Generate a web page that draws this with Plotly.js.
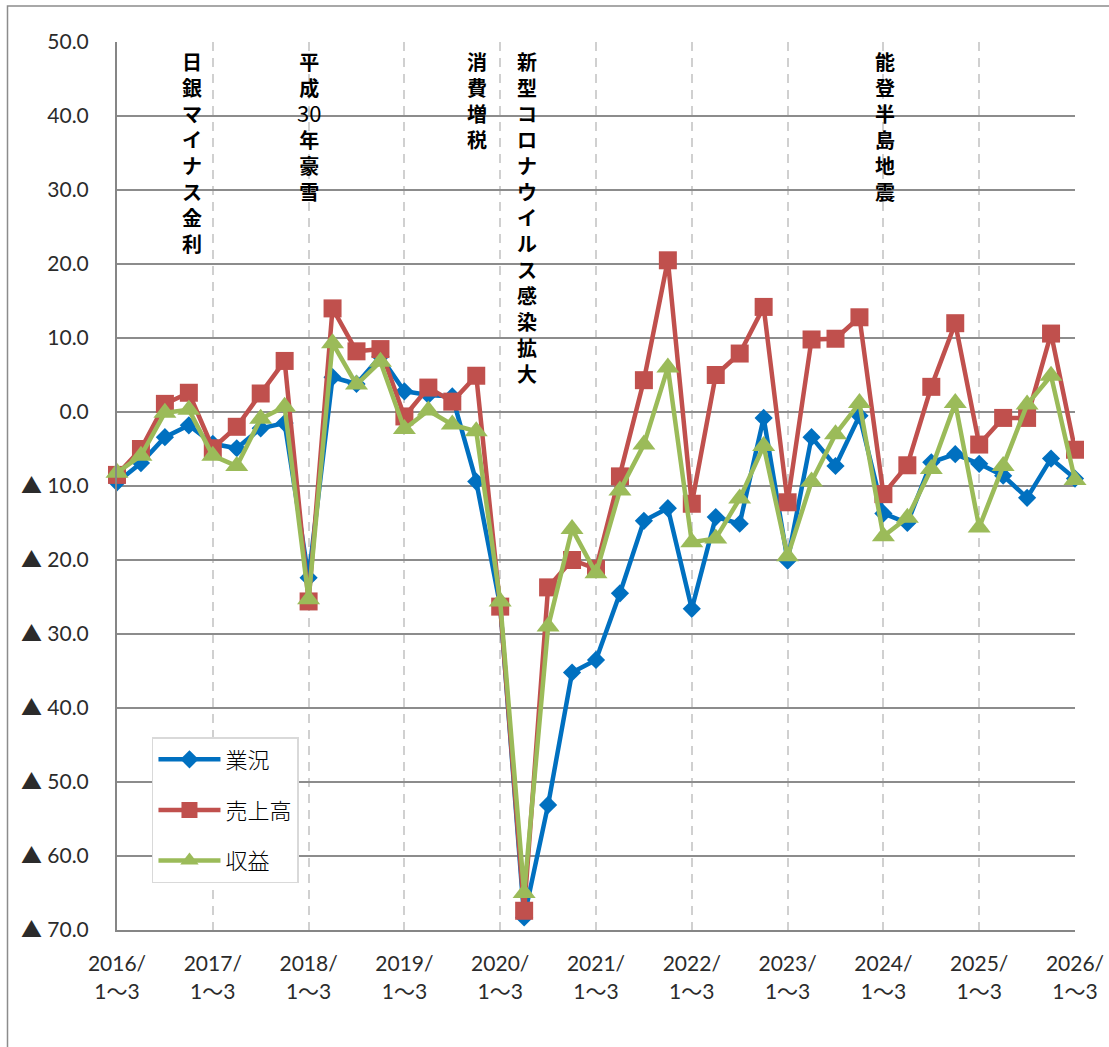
<!DOCTYPE html>
<html>
<head>
<meta charset="utf-8">
<script src="https://cdn.plot.ly/plotly-3.0.1.min.js"></script>
<style>html,body{margin:0;padding:0;background:#fff;}#chart{width:1109px;height:1047px;}</style>
</head>
<body>
<div id="chart"></div>
<script>
const quarters = [
  "2016/1～3","2016/4～6","2016/7～9","2016/10～12",
  "2017/1～3","2017/4～6","2017/7～9","2017/10～12",
  "2018/1～3","2018/4～6","2018/7～9","2018/10～12",
  "2019/1～3","2019/4～6","2019/7～9","2019/10～12",
  "2020/1～3","2020/4～6","2020/7～9","2020/10～12",
  "2021/1～3","2021/4～6","2021/7～9","2021/10～12",
  "2022/1～3","2022/4～6","2022/7～9","2022/10～12",
  "2023/1～3","2023/4～6","2023/7～9","2023/10～12",
  "2024/1～3","2024/4～6","2024/7～9","2024/10～12",
  "2025/1～3","2025/4～6","2025/7～9","2025/10～12",
  "2026/1～3"
];
const gyokyo = [-9.5,-6.9,-3.4,-1.8,-4.3,-4.9,-2.2,-1.5,-22.4,4.7,3.8,7.5,2.8,2.3,2.1,-9.4,-26.2,-68.3,-53.1,-35.2,-33.5,-24.5,-14.7,-13.0,-26.6,-14.2,-15.1,-0.8,-20.1,-3.4,-7.3,-0.5,-13.7,-15.0,-6.8,-5.7,-7.0,-8.6,-11.6,-6.3,-9.0];
const uriage = [-8.5,-5.0,1.1,2.6,-4.9,-2.0,2.5,6.9,-25.6,14.0,8.2,8.5,-0.6,3.3,1.4,4.9,-26.3,-67.4,-23.7,-20.0,-21.2,-8.7,4.3,20.5,-12.4,5.0,7.9,14.2,-12.2,9.8,9.9,12.8,-11.1,-7.2,3.4,12.0,-4.4,-0.8,-0.8,10.6,-5.1];
const shueki = [-8.2,-5.9,-0.1,0.3,-5.9,-7.3,-0.9,0.7,-25.3,9.3,3.7,6.8,-2.3,0.2,-1.7,-2.6,-25.6,-65.0,-29.0,-15.8,-21.8,-10.6,-4.4,6.0,-17.6,-17.1,-11.7,-4.6,-19.5,-9.4,-3.0,1.2,-16.8,-14.3,-7.7,1.2,-15.6,-7.3,1.0,4.9,-9.2];
const seriesNames = ["業況","売上高","収益"];
const xTickVals = ["2016/1～3","2017/1～3","2018/1～3","2019/1～3","2020/1～3","2021/1～3","2022/1～3","2023/1～3","2024/1～3","2025/1～3","2026/1～3"];
const xTickText = ["2016/<br>1～3","2017/<br>1～3","2018/<br>1～3","2019/<br>1～3","2020/<br>1～3","2021/<br>1～3","2022/<br>1～3","2023/<br>1～3","2024/<br>1～3","2025/<br>1～3","2026/<br>1～3"];
const yTickVals = [50,40,30,20,10,0,-10,-20,-30,-40,-50,-60,-70];
const yTickText = ["50.0","40.0","30.0","20.0","10.0","0.0","▲ 10.0","▲ 20.0","▲ 30.0","▲ 40.0","▲ 50.0","▲ 60.0","▲ 70.0"];
const events = [
  {pos: 3.15, label: "<b>日</b><br><b>銀</b><br><b>マ</b><br><b>イ</b><br><b>ナ</b><br><b>ス</b><br><b>金</b><br><b>利</b>"},
  {pos: 8.0, label: "<b>平</b><br><b>成</b><br><span style=\"font-size:22px\">30</span><br><b>年</b><br><b>豪</b><br><b>雪</b>"},
  {pos: 15.05, label: "<b>消</b><br><b>費</b><br><b>増</b><br><b>税</b>"},
  {pos: 17.1, label: "<b>新</b><br><b>型</b><br><b>コ</b><br><b>ロ</b><br><b>ナ</b><br><b>ウ</b><br><b>イ</b><br><b>ル</b><br><b>ス</b><br><b>感</b><br><b>染</b><br><b>拡</b><br><b>大</b>"},
  {pos: 32.05, label: "<b>能</b><br><b>登</b><br><b>半</b><br><b>島</b><br><b>地</b><br><b>震</b>"}
];

const colors = ["#0070C0","#C0504D","#9BBB59"];
const symbols = ["diamond","square","triangle-up"];
const sizes = [14,18,20];
const vals = [gyokyo, uriage, shueki];

const traces = vals.map((v, k) => ({
  type: "scatter",
  mode: "lines+markers",
  x: quarters,
  y: v,
  name: seriesNames[k],
  legendgroup: "g" + k,
  cliponaxis: false,
  line: {color: colors[k], width: 4.5},
  marker: {symbol: symbols[k], size: sizes[k], color: colors[k]}
}));

const fontMain = "Lato, 'Noto Sans CJK JP', sans-serif";
const tickColor = "#2b2b2b";
const annotations = events.map(e => ({
  xref: "x", yref: "paper",
  x: e.pos, y: 0.997,
  xanchor: "center", yanchor: "top",
  text: e.label,
  showarrow: false,
  font: {family: "'Noto Sans CJK JP', sans-serif", size: 20, color: "#000"}
}));

const layout = {
  width: 1109, height: 1047,
  margin: {l: 117, r: 34, t: 42, b: 117},
  paper_bgcolor: "#fff", plot_bgcolor: "#fff",
  font: {family: fontMain, size: 21, color: tickColor},
  showlegend: true,
  legend: {
    x: 0.0365, y: 0.2173, xanchor: "left", yanchor: "top",
    bgcolor: "#fff", bordercolor: "#d9d9d9", borderwidth: 1.5,
    font: {family: "'Noto Sans CJK JP', sans-serif", size: 22, color: "#000", weight: 300},
    tracegroupgap: 19,
    itemwidth: 62
  },
  xaxis: {
    type: "category",
    range: [0, 40],
    tickmode: "array",
    tickvals: xTickVals,
    ticktext: xTickText,
    showgrid: true,
    gridcolor: "#d0d0d0",
    gridwidth: 2,
    griddash: "9px,7px",
    showline: true,
    linecolor: "#868686",
    linewidth: 2,
    ticks: "",
    ticklabelstandoff: 14,
    tickfont: {family: fontMain, size: 21, color: tickColor, weight: 400},
    zeroline: false
  },
  yaxis: {
    range: [-70, 50],
    tickmode: "array",
    tickvals: yTickVals,
    ticktext: yTickText,
    showgrid: true,
    gridcolor: "#8c8c8c",
    gridwidth: 1.8,
    showline: true,
    linecolor: "#868686",
    linewidth: 2,
    zeroline: false,
    ticks: "",
    ticklabelstandoff: 22,
    tickfont: {family: fontMain, size: 21, color: tickColor, weight: 400}
  },
  annotations: annotations,
  shapes: [{
    type: "rect", xref: "paper", yref: "paper",
    x0: -0.1143, x1: 1.2, y0: -0.2, y1: 1.0405,
    line: {color: "#8c8c8c", width: 1.5},
    fillcolor: "rgba(0,0,0,0)",
    layer: "below"
  }]
};

Plotly.newPlot("chart", traces, layout, {displayModeBar: false, staticPlot: true});
</script>
</body>
</html>
